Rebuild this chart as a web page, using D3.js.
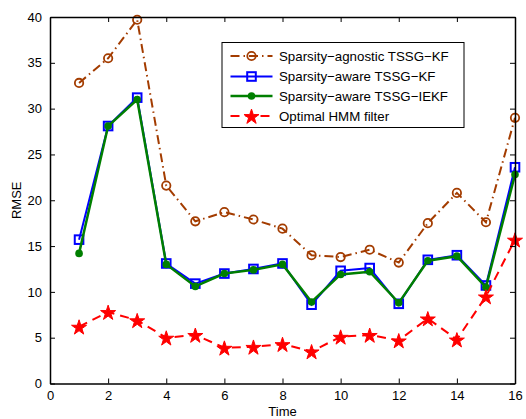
<!DOCTYPE html>
<html><head><meta charset="utf-8">
<script src="https://cdn.jsdelivr.net/npm/d3@7/dist/d3.min.js"></script>
<style>body{margin:0;background:#fff}svg{display:block}text{font-family:"Liberation Sans",Arial,sans-serif}</style>
</head><body><svg id="c" width="526" height="419"></svg>
<script>
const time = [1,2,3,4,5,6,7,8,9,10,11,12,13,14,15,16];
const agnosticKF = [32.8,35.5,39.7,21.6,17.7,18.7,17.9,16.9,14.0,13.8,14.6,13.2,17.5,20.8,17.6,29.0];
const awareKF = [15.7,28.1,31.2,13.1,10.9,12.0,12.5,13.1,8.6,12.3,12.6,8.7,13.5,14.0,10.7,23.6];
const awareIEKF = [14.2,28.1,31.0,13.0,10.6,12.0,12.4,13.0,8.9,11.9,12.2,8.8,13.4,13.9,10.5,22.8];
const hmm = [6.2,7.8,6.9,5.0,5.3,3.9,4.0,4.3,3.5,5.1,5.3,4.7,7.1,4.8,9.5,15.7];
const xTicks = [0,2,4,6,8,10,12,14,16];
const yTicks = [0,5,10,15,20,25,30,35,40];
const labels = ["Sparsity\u2212agnostic TSSG\u2212KF","Sparsity\u2212aware TSSG\u2212KF","Sparsity\u2212aware TSSG\u2212IEKF","Optimal HMM filter"];

const svg = d3.select("#c");
const L=50,R=515,T=17,B=383.5;
const x = d3.scaleLinear().domain([0,16]).range([L,R]);
const y = d3.scaleLinear().domain([0,40]).range([B,T]);

const series = [
 {v:agnosticKF,color:"#a33c00",w:2,dash:"9,4,1.5,4",marker:"circle"},
 {v:awareKF,color:"#0000ff",w:2,dash:null,marker:"square"},
 {v:awareIEKF,color:"#007f00",w:2.5,dash:null,marker:"dot"},
 {v:hmm,color:"#ff0000",w:2,dash:"9,6",marker:"star"}
];
const star = d3.symbol().type(d3.symbolStar).size(70);
function drawMarker(g,s,px,py){
  if(s.marker==="circle") g.append("circle").attr("cx",px).attr("cy",py).attr("r",4.2).attr("fill","none").attr("stroke",s.color).attr("stroke-width",1.8);
  else if(s.marker==="square") g.append("rect").attr("x",px-4.3).attr("y",py-4.3).attr("width",8.6).attr("height",8.6).attr("fill","none").attr("stroke",s.color).attr("stroke-width",2);
  else if(s.marker==="dot") g.append("circle").attr("cx",px).attr("cy",py).attr("r",3.8).attr("fill",s.color);
  else g.append("path").attr("d",star()).attr("transform",`translate(${px},${py+1})`).attr("fill",s.color).attr("stroke",s.color).attr("stroke-width",1);
}
const line = d3.line().x((d,i)=>x(time[i])).y(d=>y(d));
series.forEach(s=>{
  const g=svg.append("g");
  g.append("path").attr("d",line(s.v)).attr("fill","none").attr("stroke",s.color).attr("stroke-width",s.w).attr("stroke-dasharray",s.dash);
  s.v.forEach((d,i)=>drawMarker(g,s,x(time[i]),y(d)));
});

// axes box
const ax=svg.append("g");
ax.append("g").attr("transform",`translate(0,${B})`).call(d3.axisBottom(x).tickValues(xTicks).tickSizeInner(-5).tickSizeOuter(0).tickPadding(7));
ax.append("g").attr("transform",`translate(0,${T})`).call(d3.axisTop(x).tickValues(xTicks).tickSizeInner(-5).tickSizeOuter(0).tickFormat(""));
ax.append("g").attr("transform",`translate(${L},0)`).call(d3.axisLeft(y).tickValues(yTicks).tickSizeInner(-5).tickSizeOuter(0).tickPadding(8));
ax.append("g").attr("transform",`translate(${R},0)`).call(d3.axisRight(y).tickValues(yTicks).tickSizeInner(-5).tickSizeOuter(0).tickFormat(""));
ax.selectAll(".domain").attr("stroke","#000").attr("stroke-width",1.5);
ax.selectAll(".tick line").attr("stroke","#000");
ax.selectAll(".tick text").attr("font-size",13).attr("fill","#000").attr("font-family","Liberation Sans, Arial, sans-serif");

svg.append("text").attr("x",(L+R)/2).attr("y",416).attr("text-anchor","middle").attr("font-size",13).text("Time");
svg.append("text").attr("transform",`translate(21,${(T+B)/2}) rotate(-90)`).attr("text-anchor","middle").attr("font-size",13).text("RMSE");

// legend
const lg=svg.append("g");
lg.append("rect").attr("x",222).attr("y",42.5).attr("width",242).attr("height",85).attr("fill","#fff").attr("stroke","#000").attr("stroke-width",1);
const ly=[56,76.5,96,116];
series.forEach((s,i)=>{
  lg.append("path").attr("d",`M230.5,${ly[i]}H272.5`).attr("stroke",s.color).attr("stroke-width",s.w).attr("fill","none").attr("stroke-dasharray",s.dash);
  drawMarker(lg,s,251.5,ly[i]);
  lg.append("text").attr("x",279).attr("y",ly[i]+4.8).attr("font-size",13.3).text(labels[i]);
});
</script></body></html>
